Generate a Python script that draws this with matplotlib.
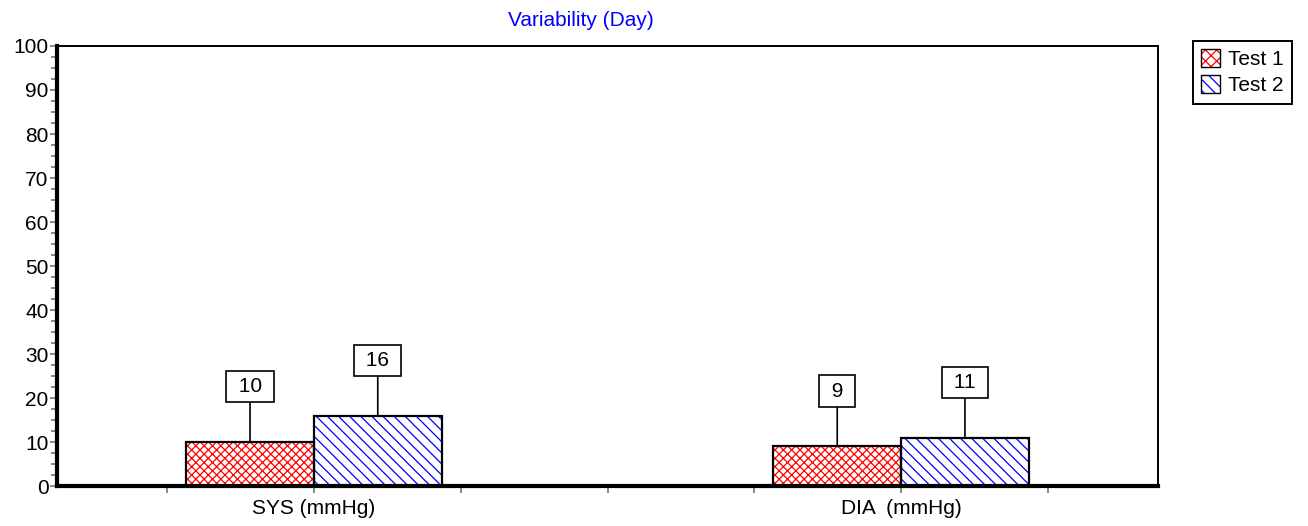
import numpy as np
import matplotlib.pyplot as plt
from matplotlib.patches import Patch
from matplotlib.colors import to_rgba

plt.rcParams['font.family'] = ['Liberation Sans', 'DejaVu Sans']
plt.rcParams['hatch.linewidth'] = 0.9

# --- data ---
categories = ["SYS (mmHg)", "DIA  (mmHg)"]
cat_pos = [1, 5]
series = ["Test 1", "Test 2"]
test1 = [10, 9]
test2 = [16, 11]
colors = ["red", "blue"]
hatches = ["xxxx", "\\\\\\"]

fig = plt.figure(figsize=(13.08, 5.26), dpi=100)
ax = fig.add_axes([57 / 1308, 1 - 486 / 526, 1101 / 1308, 440 / 526])

bw = 0.87
x = np.array(cat_pos, dtype=float)
for i, vals in enumerate([test1, test2]):
    xs = x + (i - 0.5) * bw
    ax.bar(xs, vals, width=bw, facecolor="white", edgecolor=colors[i],
           hatch=hatches[i], linewidth=0, zorder=2)
    ax.bar(xs, vals, width=bw, facecolor="none", edgecolor="black",
           linewidth=1.6, zorder=3)
    for xx, v in zip(xs, vals):
        ax.annotate(f" {v} ", xy=(xx, v), xytext=(0, 33), textcoords="offset points",
                    ha="center", va="bottom", fontsize=15,
                    bbox=dict(boxstyle="square,pad=0.3", fc="white", ec="black", lw=1.2),
                    arrowprops=dict(arrowstyle="-", color="black", lw=1.2,
                                    shrinkA=0, shrinkB=0), zorder=4)

ax.set_xlim(-0.75, 6.75)
ax.set_ylim(0, 100)
ax.set_yticks(np.arange(0, 101, 10))
ax.set_yticks(np.arange(0, 101, 2.5), minor=True)
ax.set_xticks(np.arange(0, 7))
ax.set_xticklabels(["", categories[0], "", "", "", categories[1], ""])
ax.tick_params(axis="y", which="major", length=5, width=1.3, color="gray",
               labelsize=15, pad=1)
ax.tick_params(axis="y", which="minor", length=4, width=1.3, color="gray")
ax.tick_params(axis="x", length=5, width=1.3, color="gray", labelsize=15, pad=4)

for s in ["left", "bottom"]:
    ax.spines[s].set_linewidth(3)
for s in ["top", "right"]:
    ax.spines[s].set_linewidth(1.4)

fig.text(581 / 1308, 1 - 20 / 526, "Variability (Day)", color="blue",
         ha="center", va="center", fontsize=15)

legend_hatches = ["xxx", "\\\\\\"]
handles = [Patch(facecolor="white", edgecolor="black", hatch=legend_hatches[i])
           for i in range(2)]
leg = fig.legend(handles, series, loc="upper left",
                 bbox_to_anchor=(1193 / 1308, 1 - 41 / 526), fontsize=15,
                 fancybox=False, edgecolor="black", framealpha=1,
                 handlelength=0.9, handleheight=0.9, handletextpad=0.4,
                 borderpad=0.4, labelspacing=0.3, borderaxespad=0)
leg.get_frame().set_linewidth(1.4)
for h, c in zip(leg.legend_handles, colors):
    h._hatch_color = to_rgba(c)

fig.savefig("out.png", dpi=100)
